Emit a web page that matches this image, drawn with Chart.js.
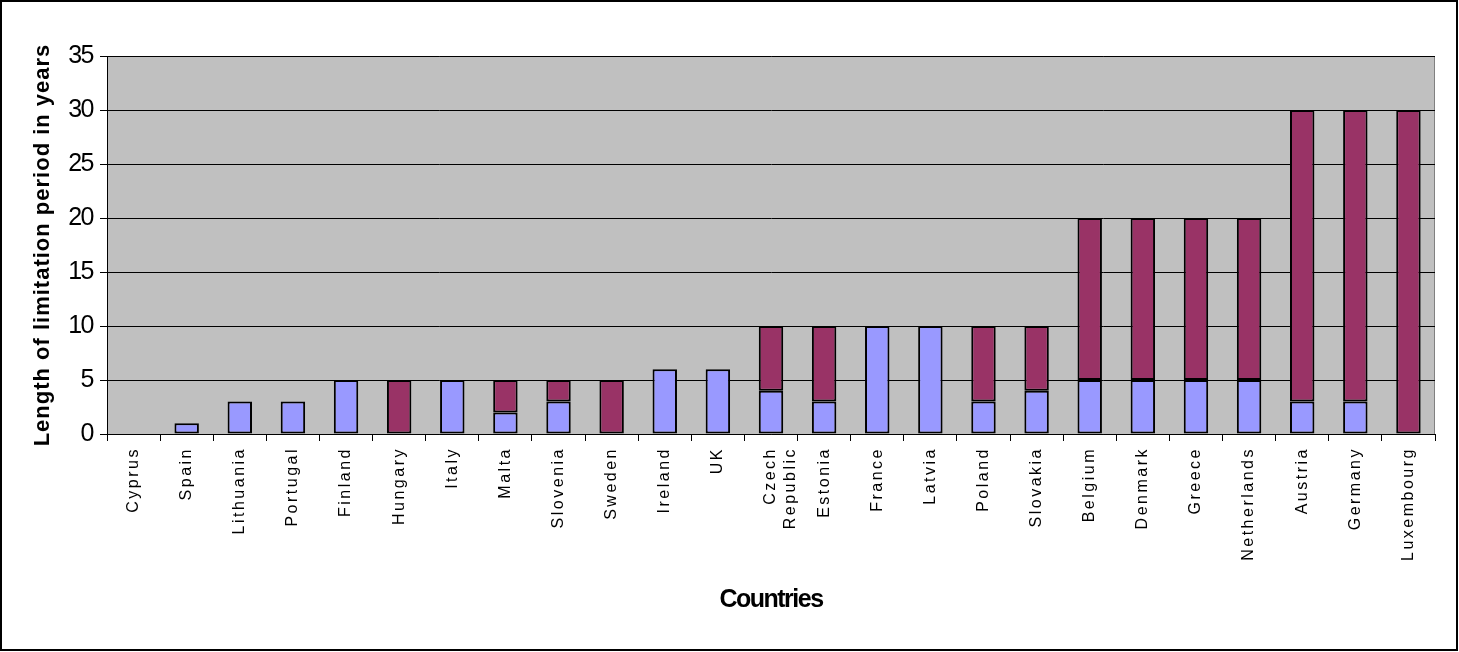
<!DOCTYPE html>
<html>
<head>
<meta charset="utf-8">
<script src="https://cdn.jsdelivr.net/npm/chart.js@4/dist/chart.umd.min.js"></script>
<style>
html,body{margin:0;padding:0;background:#fff;}
#wrap{width:1459px;height:652px;}
</style>
</head>
<body>
<div id="wrap"><canvas id="c" width="1459" height="652"></canvas></div>
<script>
const categories = ["Cyprus","Spain","Lithuania","Portugal","Finland","Hungary","Italy","Malta","Slovenia","Sweden","Ireland","UK",["Czech","Republic"],"Estonia","France","Latvia","Poland","Slovakia","Belgium","Denmark","Greece","Netherlands","Austria","Germany","Luxembourg"];
const lowerValues = [0,1,3,3,5,0,5,2,3,0,6,6,4,3,10,10,3,4,5,5,5,5,3,3,0];
const upperValues = [0,0,0,0,0,5,0,3,2,5,0,0,6,7,0,0,7,6,15,15,15,15,27,27,30];
const yTicks = [0,5,10,15,20,25,30,35];
const yTitle = "Length of limitation period in years";
const xTitle = "Countries";

function wrapSpacing(scale, method, spacing) {
  const orig = scale[method].bind(scale);
  scale[method] = function(a){ const c=this.ctx; c.save(); c.letterSpacing=spacing; orig(a); c.restore(); };
}

const spacingPlugin = {
  id: 'spacing',
  beforeDraw(chart) {
    const x = chart.scales.x, y = chart.scales.y;
    if (!x._patched) {
      wrapSpacing(x, 'drawLabels', '2.5px');
      wrapSpacing(x, 'drawTitle', '-1.5px');
      x._patched = true;
    }
    if (!y._patched) {
      wrapSpacing(y, 'drawLabels', '-1.5px');
      wrapSpacing(y, 'drawTitle', '1px');
      y._patched = true;
    }
    const ca = chart.chartArea, c = chart.ctx;
    c.save();
    c.fillStyle = '#C0C0C0';
    c.fillRect(ca.left, ca.top, ca.right - ca.left, ca.bottom - ca.top);
    c.strokeStyle = '#808080';
    c.lineWidth = 1;
    c.beginPath();
    c.moveTo(ca.left, ca.top + 0.5); c.lineTo(ca.right - 0.5, ca.top + 0.5); c.lineTo(ca.right - 0.5, ca.bottom);
    c.stroke();
    c.restore();
  },
  afterDraw(chart) {
    const c = chart.ctx;
    c.save();
    c.strokeStyle = '#000';
    c.lineWidth = 2;
    c.strokeRect(1, 1, chart.width - 3, chart.height - 3);
    c.restore();
  }
};

new Chart(document.getElementById('c'), {
  type: 'bar',
  data: {
    labels: categories,
    datasets: [
      { data: lowerValues, backgroundColor: '#9999FF', borderColor: '#000', borderWidth: 2, borderSkipped: false, barPercentage: 0.46, categoryPercentage: 1 },
      { data: upperValues, backgroundColor: '#993366', borderColor: '#000', borderWidth: 2, borderSkipped: false, barPercentage: 0.46, categoryPercentage: 1 }
    ]
  },
  options: {
    responsive: false,
    animation: false,
    events: [],
    layout: { padding: { left: 26, right: 24, top: 56, bottom: 33 } },
    plugins: { legend: { display: false }, tooltip: { enabled: false } },
    scales: {
      x: {
        stacked: true,
        offset: true,
        grid: { offset: true, drawOnChartArea: false, color: '#000', tickLength: 7, tickColor: '#000' },
        border: { color: '#000', width: 1 },
        ticks: { maxRotation: 90, minRotation: 90, autoSkip: false, color: '#000', padding: 6, font: { family: 'Liberation Sans, Arial, sans-serif', size: 16 } },
        title: { display: true, text: xTitle, color: '#000', font: { family: 'Liberation Sans, Arial, sans-serif', size: 25, weight: 'bold' }, padding: { top: 4, bottom: 4 } },
        afterFit(s) { s.height = 652 - 33 - 434; }
      },
      y: {
        stacked: true,
        min: 0, max: 35,
        afterBuildTicks(s) { s.ticks = yTicks.map(v => ({ value: v })); },
        grid: { color: '#000', lineWidth: 1, tickLength: 7, tickColor: '#000' },
        border: { color: '#000', width: 1 },
        ticks: { color: '#000', padding: 7, font: { family: 'Liberation Sans, Arial, sans-serif', size: 25 } },
        title: { display: true, text: yTitle, color: '#000', font: { family: 'Liberation Sans, Arial, sans-serif', size: 22, weight: 'bold' }, padding: { top: 4, bottom: 4 } },
        afterFit(s) { s.width = 107 - 26; }
      }
    }
  },
  plugins: [spacingPlugin]
});
</script>
</body>
</html>
